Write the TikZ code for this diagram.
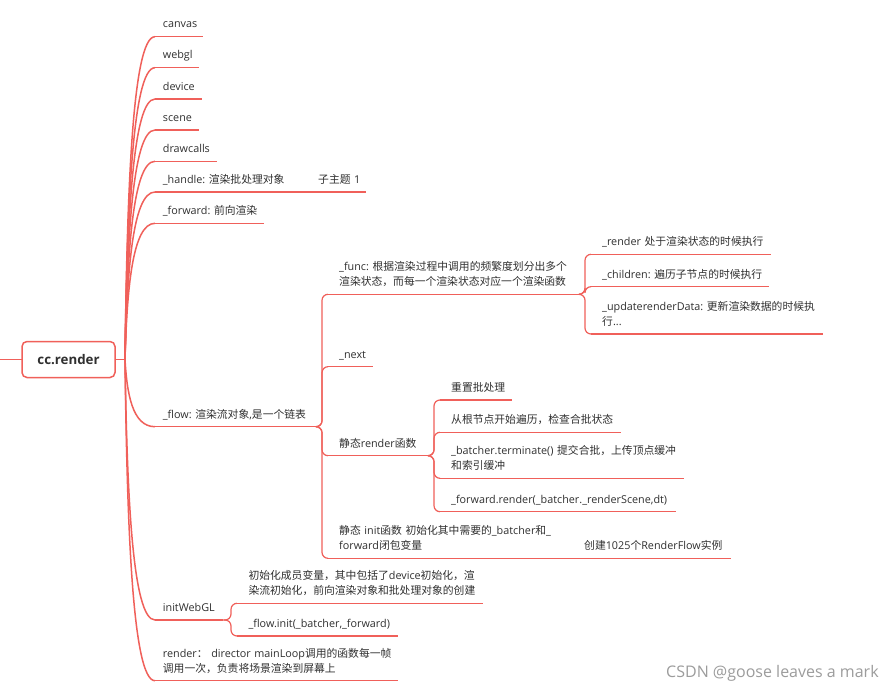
\documentclass[tikz,border=0pt]{standalone}
\usepackage{fontspec}
\setmainfont{Open Sans}
\newfontfamily\cjkfont{Noto Sans CJK SC}
\frenchspacing
\newcount\cjkc
\def\setcjkrange#1#2{\cjkc=#1\relax\loop\XeTeXcharclass\cjkc=7\relax\ifnum\cjkc<#2\relax\advance\cjkc by 1\relax\repeat}
\setcjkrange{"4E00}{"9FFF}
\setcjkrange{"3000}{"303F}
\setcjkrange{"FF00}{"FFEF}
\XeTeXinterchartokenstate=1
\XeTeXinterchartoks 0 7 = {\begingroup\cjkfont}
\XeTeXinterchartoks 4095 7 = {\begingroup\cjkfont}
\XeTeXinterchartoks 7 0 = {\endgroup}
\XeTeXinterchartoks 7 4095 = {\endgroup}
\definecolor{mmred}{HTML}{F0605A}
\definecolor{mmtext}{HTML}{303030}
\definecolor{wmgray}{HTML}{9C9C9C}
\newcommand\tx[2]{\hspace*{#1pt}\begin{tabular}[b]{@{}l@{}}#2\end{tabular}}
\tikzset{
  topic/.style={anchor=south west, inner xsep=0pt, inner ysep=4pt, text width=#1pt,
    align=left, font=\fontsize{10.8}{15}\selectfont, text=mmtext},
  ulA/.style={draw=mmred, line width=1.5pt},
  ulB/.style={draw=mmred, line width=1.2pt},
  brk/.style={draw=mmred, line width=1.2pt, rounded corners=6pt},
  rootbox/.style={draw=mmred, line width=1.5pt, rounded corners=5pt, fill=white,
    minimum width=93pt, minimum height=36pt, inner sep=0pt,
    font=\fontsize{13.3}{16}\selectfont\bfseries, text=mmtext}
}
\begin{document}
\begin{tikzpicture}[x=1pt,y=-1pt]
\fill[white] (0,0) rectangle (896,693);
\useasboundingbox (0,0) rectangle (896,693);

% root
\coordinate (lstub) at (0,359.5);
\coordinate (rj) at (125,359.5);
\draw[ulA] (lstub) -- (22,359.5);
\node[rootbox] (root) at (68.5,359.5) {cc.render};
\draw[ulA] (root.east) -- (rj);

% level 1
\node[topic=48] (canvas) at (155,36.7) {\tx{7.7}{canvas}};
\node[topic=44] (webgl) at (155,67.7) {\tx{7.7}{webgl}};
\node[topic=47] (device) at (155,99) {\tx{7.7}{device}};
\node[topic=44] (scene) at (155,130) {\tx{7.7}{scene}};
\node[topic=62] (drawcalls) at (155,161.3) {\tx{7.7}{drawcalls}};
\node[topic=135] (handle) at (155,192) {\tx{7.7}{\_handle: 渲染批处理对象}};
\node[topic=54] (sub1) at (312,192) {\tx{6}{子主题 1}};
\node[topic=109] (forward) at (155,223.3) {\tx{7.7}{\_forward: 前向渲染}};
\node[topic=161] (flow) at (155,426.7) {\tx{7.7}{\_flow: 渲染流对象,是一个链表}};
\node[topic=68] (initwebgl) at (155,620) {\tx{7.7}{initWebGL}};
\node[topic=243] (renderfn) at (155,680.7) {\tx{7.7}{render：\ director mainLoop调用的函数每一帧\\调用一次，负责将场景渲染到屏幕上}};

% level 2 under _flow (bracket x = 322)
\node[topic=251] (func) at (328,294.3) {\tx{11}{\_func: 根据渲染过程中调用的频繁度划分出多个\\渲染状态，而每一个渲染状态对应一个渲染函数}};
\node[topic=44.7] (next) at (328,366.7) {\tx{11}{\_next}};
\node[topic=100] (srender) at (328,455.7) {\tx{11}{静态render函数}};
\node[topic=230] (sinit) at (328,558.3) {\tx{11}{静态 init函数 初始化其中需要的\_batcher和\_\\forward闭包变量}};
\node[topic=153] (create) at (578,558.3) {\tx{6}{创建1025个RenderFlow实例}};

% under _func (bracket x = 585)
\node[topic=180] (rstate) at (591,254.3) {\tx{11}{\_render 处于渲染状态的时候执行}};
\node[topic=178] (children) at (591,286.7) {\tx{11}{\_children: 遍历子节点的时候执行}};
\node[topic=232] (update) at (591,334) {\tx{11}{\_updaterenderData: 更新渲染数据的时候执\\行...}};

% under 静态render函数 (bracket x = 434)
\node[topic=72] (reset) at (440,400) {\tx{11}{重置批处理}};
\node[topic=181] (traverse) at (440,432.3) {\tx{11}{从根节点开始遍历，检查合批状态}};
\node[topic=244] (terminate) at (440,478.3) {\tx{11}{\_batcher.terminate() 提交合批，上传顶点缓冲\\和索引缓冲}};
\node[topic=236] (fwdrender) at (440,511.7) {\tx{11}{\_forward.render(\_batcher.\_renderScene,dt)}};

% under initWebGL (bracket x = 231)
\node[topic=246] (initmembers) at (237,603.3) {\tx{11.3}{初始化成员变量，其中包括了device初始化，渲\\染流初始化，前向渲染对象和批处理对象的创建}};
\node[topic=161] (flowinit) at (237,636) {\tx{11.3}{\_flow.init(\_batcher,\_forward)}};

% underlines
\foreach \n in {canvas,webgl,device,scene,drawcalls,handle,forward,flow,initwebgl,renderfn}
  \draw[ulA] (\n.south west) -- (\n.south east);
\foreach \n in {sub1,func,next,srender,sinit,create,rstate,children,update,reset,traverse,terminate,fwdrender,initmembers,flowinit}
  \draw[ulB] (\n.south west) -- (\n.south east);

% root curves
\draw[ulA] (rj) .. controls (127,197.8) and (132,36.7) .. (canvas.south west);
\draw[ulA] (rj) .. controls (127,213.3) and (132,67.7) .. (webgl.south west);
\draw[ulA] (rj) .. controls (127,229) and (132,99) .. (device.south west);
\draw[ulA] (rj) .. controls (127,244.5) and (132,130) .. (scene.south west);
\draw[ulA] (rj) .. controls (127,260.2) and (132,161.3) .. (drawcalls.south west);
\draw[ulA] (rj) .. controls (127,275.5) and (132,192) .. (handle.south west);
\draw[ulA] (rj) .. controls (127,291.2) and (132,223.3) .. (forward.south west);
\draw[ulA] (rj) .. controls (127,392.8) and (132,426.7) .. (flow.south west);
\draw[ulA] (rj) .. controls (127,489.5) and (132,620) .. (initwebgl.south west);
\draw[ulA] (rj) .. controls (127,519.8) and (132,680.7) .. (renderfn.south west);

% straight continuations
\draw[ulB] (handle.south east) -- (sub1.south west);
\draw[ulB] (sinit.south east) -- (create.south west);

% brackets
\foreach \c in {func,next,srender,sinit}
  \draw[brk] (flow.south east) -| ([xshift=-6pt]\c.south west) -- (\c.south west);
\foreach \c in {rstate,children,update}
  \draw[brk] (func.south east) -| ([xshift=-6pt]\c.south west) -- (\c.south west);
\foreach \c in {reset,traverse,terminate,fwdrender}
  \draw[brk] (srender.south east) -| ([xshift=-6pt]\c.south west) -- (\c.south west);
\foreach \c in {initmembers,flowinit}
  \draw[brk] (initwebgl.south east) -| ([xshift=-6pt]\c.south west) -- (\c.south west);

% watermark
\node[anchor=base west, inner sep=0pt, font=\fontsize{16}{18}\selectfont, text=wmgray] (wm) at (666,677) {CSDN @goose leaves a mark};
\end{tikzpicture}
\end{document}
